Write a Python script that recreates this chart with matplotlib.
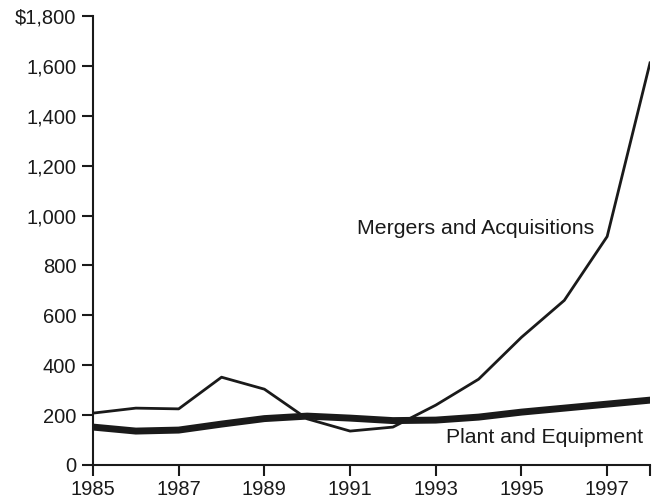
import matplotlib
matplotlib.use("Agg")
import matplotlib.pyplot as plt
from matplotlib.ticker import FuncFormatter

plt.rcParams['font.family'] = ['Liberation Sans', 'DejaVu Sans']

years = list(range(1985, 1999))
mergers = [208, 228, 225, 352, 304, 185, 136, 152, 240, 344, 512, 660, 916, 1612]
plant = [152, 136, 140, 164, 186, 196, 188, 178, 180, 192, 212, 228, 244, 260]
x_ticks = [1985, 1987, 1989, 1991, 1993, 1995, 1997, 1998]
x_labels = ['1985', '1987', '1989', '1991', '1993', '1995', '1997', '']
y_ticks = list(range(0, 1801, 200))


def money(v, pos):
    if v == 1800:
        return '${:,.0f}'.format(v)
    return '{:,.0f}'.format(v)


fig = plt.figure(figsize=(6.59, 5.0), dpi=100)
ax = fig.add_axes([93 / 659, 35 / 500, (650 - 93) / 659, (465 - 16) / 500])

ax.plot(years, mergers, color='#1a1a1a', lw=2.0)
ax.plot(years, plant, color='#1a1a1a', lw=5)

ax.set_xlim(1985, 1998)
ax.set_ylim(0, 1800)
ax.set_xticks(x_ticks)
ax.set_xticklabels(x_labels)
ax.set_yticks(y_ticks)
ax.yaxis.set_major_formatter(FuncFormatter(money))

for s in ['top', 'right']:
    ax.spines[s].set_visible(False)
for s in ['left', 'bottom']:
    ax.spines[s].set_linewidth(1.5)
    ax.spines[s].set_color('#1a1a1a')
ax.tick_params(axis='both', direction='out', length=8, width=1.5,
               labelsize=14.5, colors='#1a1a1a')
ax.tick_params(axis='x', pad=3)
ax.tick_params(axis='y', pad=4)

ax.text(1991.15, 950, 'Mergers and Acquisitions', fontsize=15.3, color='#1a1a1a',
        va='center', ha='left')
ax.text(1997.85, 110, 'Plant and Equipment', fontsize=15.3, color='#1a1a1a',
        va='center', ha='right')

fig.savefig('out.png', dpi=100)
